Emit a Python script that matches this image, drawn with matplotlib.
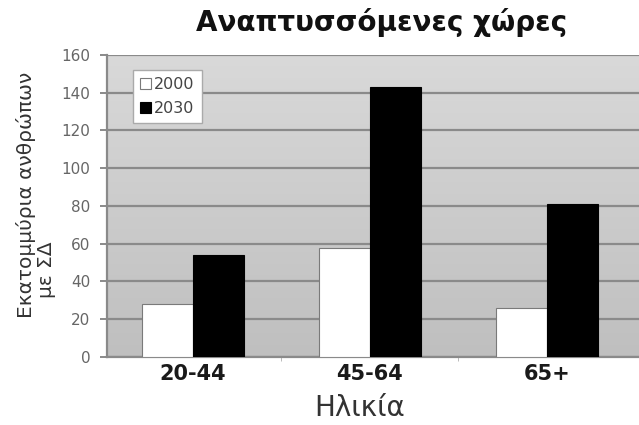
import numpy as np
import matplotlib
matplotlib.use("Agg")
import matplotlib.pyplot as plt
from matplotlib.colors import LinearSegmentedColormap

categories = ["20-44", "45-64", "65+"]
years = ["2000", "2030"]
values_2000 = [28, 58, 26]
values_2030 = [54, 143, 81]
y_ticks = [0, 20, 40, 60, 80, 100, 120, 140, 160]

plt.rcParams["font.family"] = ["DejaVu Sans"]

fig = plt.figure(figsize=(6.39, 4.25), dpi=100)
ax = fig.add_axes([0.1674, 0.16, 0.8326, 0.7106])

x = np.arange(len(categories))
bw = 0.29
xlim = (-0.486, 2.52)
ax.set_xlim(*xlim)
ax.set_ylim(0, 160)

# vertical gray gradient behind the bars
grad = np.linspace(0, 1, 256).reshape(-1, 1)
ax.imshow(grad, extent=[xlim[0], xlim[1], 0, 160], aspect="auto",
          cmap=LinearSegmentedColormap.from_list("bg", ["#bfbfbf", "#d9d9d9"]),
          origin="lower", zorder=0)

ax.set_yticks(y_ticks)
ax.yaxis.grid(True, color="#8a8a8a", linewidth=1.6, zorder=1)
ax.set_axisbelow(True)

ax.bar(x - bw / 2, values_2000, bw, color="white", edgecolor="#7a7a7a",
       linewidth=0.8, zorder=3, label=years[0])
ax.bar(x + bw / 2, values_2030, bw, color="black", edgecolor="black",
       linewidth=0.8, zorder=3, label=years[1])

ax.set_xticks(x)
ax.set_xticklabels(categories, fontsize=15, fontweight="bold", color="#1a1a1a")
ax.set_xticks([0.5, 1.5], minor=True)
ax.tick_params(axis="x", which="major", length=0, pad=5)
ax.tick_params(axis="x", which="minor", length=3, color="#b0b0b0")
ax.tick_params(axis="y", labelsize=11, labelcolor="#666666", color="#8a8a8a",
               length=5, width=1.4, pad=7)

for side in ["top", "right"]:
    ax.spines[side].set_visible(False)
ax.spines["left"].set_color("#8a8a8a")
ax.spines["left"].set_linewidth(1.6)
ax.spines["bottom"].set_color("#8a8a8a")
ax.spines["bottom"].set_linewidth(1.6)

fig.text(0.563, 0.021, "Ηλικία", ha="center", va="baseline",
         fontsize=20, color="#333333")
fig.text(0.040, 0.541, "Εκατομμύρια ανθρώπων", rotation=90,
         ha="center", va="center", fontsize=14.5, color="#333333")
fig.text(0.073, 0.299, "με ΣΔ", rotation=90,
         ha="center", va="bottom", fontsize=14.5, color="#333333")

leg = ax.legend(loc="upper left", bbox_to_anchor=(0.048, 0.95), fontsize=11.5,
                frameon=True, fancybox=False, edgecolor="#aaaaaa",
                handlelength=0.7, handleheight=0.7, handletextpad=0.2,
                borderpad=0.45, labelspacing=0.55, framealpha=1,
                borderaxespad=0)
for t in leg.get_texts():
    t.set_color("#444444")

fig.text(0.597, 0.927, "Αναπτυσσόμενες χώρες", ha="center", va="baseline",
         fontsize=20, fontweight="bold", color="#111111")

fig.savefig("out.png", dpi=100)
